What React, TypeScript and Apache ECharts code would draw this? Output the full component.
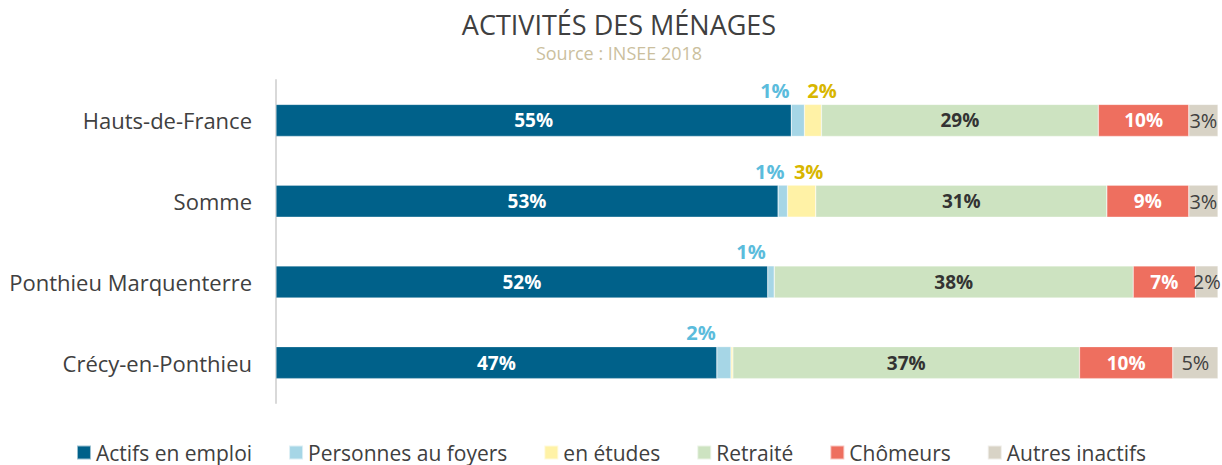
import React, { useEffect, useRef } from "react";
import * as echarts from "echarts";

const categories = ["Hauts-de-France", "Somme", "Ponthieu Marquenterre", "Crécy-en-Ponthieu"];
const seriesNames = ["Actifs en emploi", "Personnes au foyers", "en études", "Retraité", "Chômeurs", "Autres inactifs"];
const actifs = [54.7, 53.3, 52.2, 46.8];
const foyers = [1.4, 1.0, 0.7, 1.5];
const etudes = [1.8, 3.0, 0, 0.2];
const retraite = [29.4, 30.9, 38.1, 36.8];
const chomeurs = [9.6, 8.7, 6.6, 9.9];
const autres = [3.1, 3.1, 2.4, 4.8];
const foyersLabelOffsets = [-23, -13, -20, -23];
const etudesLabelOffsets = [9, 7, 0, 0];

const colors = ["#00618a", "#a6d6e6", "#fff2a6", "#cde3c1", "#ee6f5f", "#d8d3c6"];
const FONT = "'Open Sans', 'Noto Sans', sans-serif";

export default function App() {
  const ref = useRef<HTMLDivElement>(null);
  useEffect(() => {
    const chart = echarts.init(ref.current!, null, { renderer: "svg" });
    const pct = (p: any) => Math.round(p.value) + "%";
    const insideLabel = (color: string, bold: boolean, size: number) => ({
      show: true,
      position: "inside",
      color,
      fontFamily: FONT,
      fontWeight: bold ? "bold" : "normal",
      fontSize: size,
      formatter: pct,
    });
    const datas = [actifs, foyers, etudes, retraite, chomeurs, autres];
    const series: any[] = datas.map((d, i) => {
      let data: any[] = d.map((v) => v);
      let label: any;
      if (i === 0) label = insideLabel("#ffffff", true, 19);
      else if (i === 3) label = insideLabel("#333333", true, 19);
      else if (i === 4) label = insideLabel("#ffffff", true, 19);
      else if (i === 5) label = insideLabel("#404040", false, 20);
      else if (i === 1) {
        label = { show: false };
        data = d.map((v, j) => ({
          value: v,
          label: {
            show: true,
            position: "top",
            distance: 4,
            offset: [foyersLabelOffsets[j], 0],
            color: "#5bbcdc",
            fontWeight: "bold",
            fontSize: 20,
            fontFamily: FONT,
            formatter: pct,
          },
        }));
      } else if (i === 2) {
        label = { show: false };
        data = d.map((v, j) => ({
          value: v,
          label: {
            show: v >= 0.5,
            position: "top",
            distance: 4,
            offset: [etudesLabelOffsets[j], 0],
            color: "#d8b600",
            fontWeight: "bold",
            fontSize: 20,
            fontFamily: FONT,
            formatter: pct,
          },
        }));
      }
      return {
        name: seriesNames[i],
        type: "bar",
        stack: "total",
        barWidth: 32,
        data,
        label,
        itemStyle: { color: colors[i], borderColor: "rgba(255,255,255,0.6)", borderWidth: 0.5 },
      };
    });
    chart.setOption({
      animation: false,
      title: [
        {
          text: "ACTIVITÉS DES MÉNAGES",
          left: 619,
          textAlign: "center",
          top: 10,
          padding: 0,
          textStyle: { fontFamily: FONT, fontSize: 27, lineHeight: 28, fontWeight: "normal", color: "#404040" },
        },
        {
          text: "Source : INSEE 2018",
          left: 619,
          textAlign: "center",
          top: 44,
          padding: 0,
          textStyle: { fontFamily: FONT, fontSize: 18, lineHeight: 18, fontWeight: "normal", color: "#cbbf9e" },
        },
      ],
      legend: {
        bottom: -3,
        left: "center",
        itemWidth: 14,
        itemHeight: 14,
        itemGap: 36,
        icon: "rect",
        textStyle: { fontFamily: FONT, fontSize: 21, color: "#404040" },
        data: seriesNames,
      },
      grid: { left: 276, right: 4, top: 80, bottom: 62, containLabel: false },
      xAxis: { type: "value", min: 0, max: 100, show: false },
      yAxis: {
        type: "category",
        data: categories,
        inverse: true,
        axisLine: { show: true, lineStyle: { color: "#d9d9d9", width: 2 } },
        axisTick: { show: false },
        axisLabel: { fontFamily: FONT, fontSize: 22, color: "#404040", margin: 24 },
      },
      series,
    });
    return () => chart.dispose();
  }, []);
  return <div ref={ref} style={{ width: 1222, height: 465, position: "absolute", left: 0, top: 0 }} />;
}
